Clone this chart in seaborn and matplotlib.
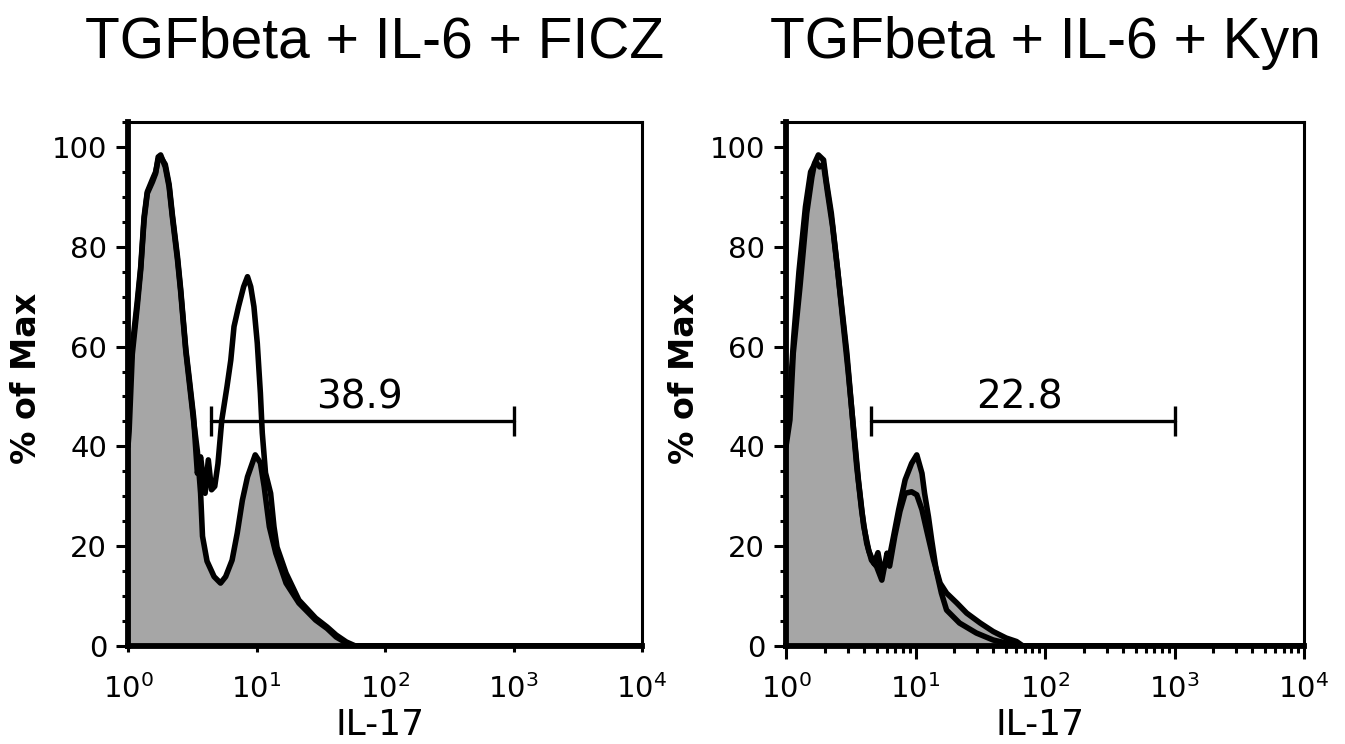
import matplotlib
matplotlib.use("Agg")
import matplotlib.pyplot as plt
import matplotlib.ticker as mticker
import seaborn as sns
import numpy as np

# ---------------- data ----------------
titles = ["TGFbeta + IL-6 + FICZ", "TGFbeta + IL-6 + Kyn"]
x_label = "IL-17"
y_label = "% of Max"

# FICZ panel: filled (grey) histogram
ficz_fill_x = [1.00, 1.02, 1.08, 1.18, 1.256, 1.334, 1.413, 1.549, 1.641, 1.718, 1.795,
               1.95, 2.089, 2.213, 2.427, 2.57, 2.69, 2.818, 2.985, 3.236, 3.467,
               3.673, 3.80, 4.12, 4.677, 5.248, 5.754, 6.457, 7.079, 7.762, 8.511,
               9.772, 10.72, 11.48, 12.59, 14.13, 16.98, 21.38, 28.84, 35.48, 41.69,
               47.86, 56.23, 10000]
ficz_fill_y = [40, 43, 58.5, 68, 75.4, 85.4, 90.7, 93, 94.7, 98, 98.4,
               96, 92, 86, 77.4, 71, 65, 59, 53.3, 45.3, 39,
               30.6, 22, 17, 13.9, 12.6, 13.9, 17.2, 22.6, 29.2, 33.9,
               38.3, 36.7, 31.9, 23.9, 18.6, 12.6, 8.6, 5.2, 3.5, 1.8,
               0.9, 0, 0]

# FICZ panel: open histogram
ficz_open_x = [1.00, 1.02, 1.08, 1.18, 1.256, 1.334, 1.413, 1.549, 1.641, 1.718, 1.795,
               1.95, 2.089, 2.213, 2.427, 2.57, 2.69, 2.818, 2.985, 3.236, 3.467,
               3.673, 3.981, 4.217, 4.467, 4.732, 5.012, 5.37, 5.888, 6.31, 6.683,
               7.244, 7.943, 8.511, 9.016, 9.55, 10.14, 10.72, 11.09, 11.75, 12.88,
               13.68, 14.45, 16.98, 21.38, 28.84, 35.48, 41.69, 50.1, 58.9, 10000]
ficz_open_y = [48, 52, 60, 69, 76, 86, 91, 93.5, 95, 97.5, 98,
               96.5, 92.5, 86.5, 78, 71.5, 65.5, 59.5, 54, 46, 34.6,
               37.9, 30.6, 37.3, 31.3, 32, 36.5, 45.3, 51.9, 57.3, 64,
               68, 72, 74, 72, 68, 60.7, 50.7, 42.7, 34.7, 30.6,
               23.9, 19.8, 14.6, 9.2, 5.6, 3.8, 2.2, 0.8, 0, 0]

# Kyn panel: histogram A (taller second peak)
kyn_a_x = [1.0, 1.072, 1.138, 1.282, 1.445, 1.585, 1.66, 1.778, 1.95, 2.042, 2.239,
           2.455, 2.692, 2.951, 3.236, 3.516, 3.846, 4.198, 4.571, 5.012, 5.495,
           6.026, 6.166, 6.761, 7.413, 8.318, 9.333, 10.23, 11.22, 11.75, 12.59,
           13.34, 14.45, 15.85, 17.38, 21.88, 29.51, 39.81, 53.7, 60.3, 10000]
kyn_a_y = [40, 45.3, 58.7, 72, 86.7, 94, 96.7, 98.4, 97.4, 93.4, 86.7,
           77.4, 68, 58.7, 46.7, 36, 27, 20.6, 17.2, 15.9, 13.2,
           18.6, 16.6, 21.9, 27.3, 33.3, 36.6, 38.3, 34.6, 30.6, 25.9,
           21.2, 15.2, 10.6, 7.2, 4.6, 2.6, 1.2, 0.4, 0, 0]

# Kyn panel: histogram B (lower second peak, longer tail)
kyn_b_x = [1.0, 1.072, 1.148, 1.259, 1.413, 1.549, 1.698, 1.82, 1.95, 2.089, 2.291,
           2.512, 2.754, 3.02, 3.311, 3.631, 3.981, 4.365, 4.786, 5.129, 5.495,
           5.888, 6.31, 6.918, 7.586, 8.318, 9.333, 10.23, 11.22, 12.19, 13.8,
           15.49, 17.38, 20.89, 24.83, 31.62, 39.81, 50.12, 60.26, 67.6, 10000]
kyn_b_y = [42, 50, 62, 75, 88, 95, 97, 96, 96.5, 91, 84,
           75, 65, 55, 44, 33, 24, 19, 16.5, 18.7, 14.5,
           17, 16, 22, 27, 30.6, 30.9, 30.3, 27.3, 23.2, 17.2,
           12.6, 10.6, 8.6, 6.6, 4.6, 2.9, 1.6, 0.9, 0, 0]

# gates: (start, end, level, label)
gate_starts = [4.4, 4.5]
gate_ends = [1000, 1000]
gate_levels = [45, 45]
gate_labels = ["38.9", "22.8"]

y_ticks = [0, 20, 40, 60, 80, 100]

# ---------------- styling ----------------
sns.set_theme(style="white")
plt.rcParams["font.family"] = ["DejaVu Sans"]
plt.rcParams["text.color"] = "black"
plt.rcParams["axes.labelcolor"] = "black"
plt.rcParams["xtick.color"] = "black"
plt.rcParams["ytick.color"] = "black"

GREY = "#a6a6a6"
fig = plt.figure(figsize=(13.45, 7.44), dpi=100)

W, H = 1345, 744
ax_l = fig.add_axes([128 / W, 98 / H, 514 / W, 524 / H])
ax_r = fig.add_axes([786 / W, 98 / H, 518 / W, 524 / H])

def outline(ax, xs, ys):
    sns.lineplot(x=xs, y=ys, ax=ax, color="black", linewidth=4.0,
                 estimator=None, sort=False, legend=False)

# left panel
ax_l.fill_between(ficz_fill_x, ficz_fill_y, 0, color=GREY, linewidth=0, zorder=1)
outline(ax_l, ficz_open_x, ficz_open_y)
outline(ax_l, ficz_fill_x, ficz_fill_y)

# right panel
ax_r.fill_between(kyn_a_x, kyn_a_y, 0, color=GREY, linewidth=0, zorder=1)
ax_r.fill_between(kyn_b_x, kyn_b_y, 0, color=GREY, linewidth=0, zorder=1)
outline(ax_r, kyn_b_x, kyn_b_y)
outline(ax_r, kyn_a_x, kyn_a_y)

for i, ax in enumerate([ax_l, ax_r]):
    ax.set_xscale("log")
    ax.set_xlim(1, 1e4)
    ax.set_ylim(0, 105)
    ax.set_yticks(y_ticks)
    ax.yaxis.set_minor_locator(mticker.MultipleLocator(5))
    ax.xaxis.set_major_locator(mticker.LogLocator(base=10, numticks=10))
    ax.xaxis.set_major_formatter(mticker.LogFormatterSciNotation())
    if i == 1:
        ax.xaxis.set_minor_locator(mticker.LogLocator(base=10, subs=np.arange(2, 10), numticks=20))
        ax.tick_params(axis="x", which="major", direction="out", length=9, width=2.2,
                       pad=11, labelsize=21)
        ax.tick_params(axis="x", which="minor", direction="out", length=5, width=2.2)
    else:
        ax.xaxis.set_minor_locator(mticker.NullLocator())
        ax.tick_params(axis="x", which="major", direction="out", length=4, width=2.2,
                       pad=16, labelsize=21)
    ax.tick_params(axis="y", which="major", direction="out", length=9, width=2.2,
                   pad=6, labelsize=21)
    ax.tick_params(axis="y", which="minor", direction="out", length=4, width=2.2)
    ax.tick_params(left=True, bottom=True, which="both")
    for side in ["top", "right"]:
        ax.spines[side].set_linewidth(2.2)
        ax.spines[side].set_color("black")
    for side in ["left", "bottom"]:
        ax.spines[side].set_linewidth(4.2)
        ax.spines[side].set_color("black")
    ax.set_xlabel(x_label, fontsize=26, labelpad=0)
    ax.xaxis.set_label_coords(0.49, -0.118)
    ax.set_ylabel(y_label, fontsize=24, fontweight="bold")
    ax.yaxis.set_label_coords(-0.165, 0.51)

    # gate bar
    g0, g1, gl = gate_starts[i], gate_ends[i], gate_levels[i]
    ax.plot([g0, g1], [gl, gl], color="black", linewidth=2.4, zorder=4)
    ax.vlines([g0, g1], gl - 3, gl + 3, color="black", linewidth=2.4, zorder=4)
    ax.text(np.sqrt(g0 * g1) * 0.95, gl + 2.5, gate_labels[i], fontsize=28,
            ha="center", va="baseline", color="black")

    fig.text((128 + 514 / 2 - 10) / W if i == 0 else (786 + 518 / 2) / W,
             1 - 58 / H, titles[i], fontsize=41, family="Liberation Sans",
             ha="center", va="baseline", color="black")

fig.savefig("out.png", dpi=100, facecolor="white")
